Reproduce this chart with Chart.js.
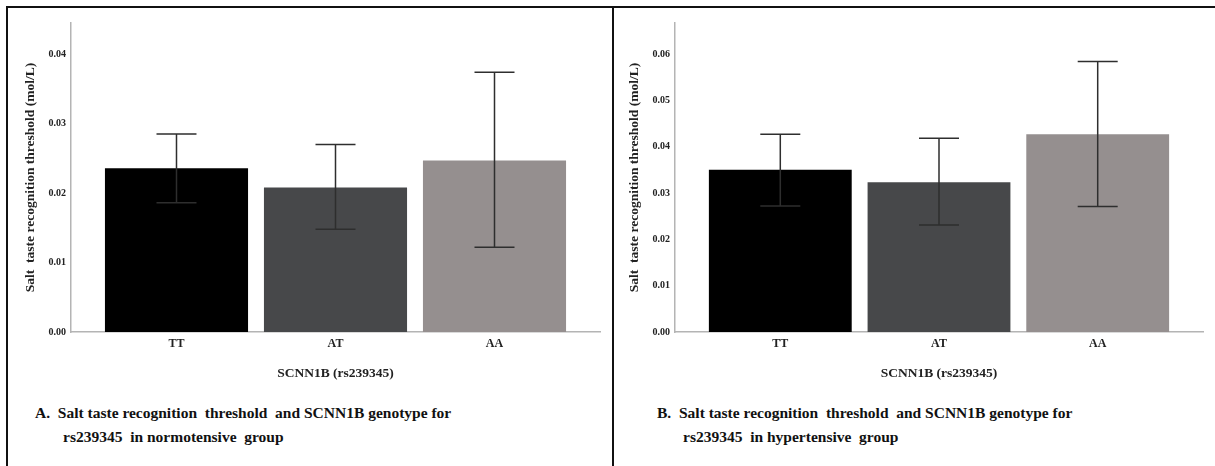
<!DOCTYPE html>
<html>
<head>
<meta charset="utf-8">
<script src="https://cdn.jsdelivr.net/npm/chart.js@4.4.1/dist/chart.umd.min.js"></script>
<style>
  html, body { margin: 0; padding: 0; background: #fff; }
  #page { position: relative; width: 1215px; height: 466px; overflow: hidden; font-family: "Liberation Serif", "Times New Roman", Times, "DejaVu Serif", serif; }
  .rule { position: absolute; background: #111; }
  canvas { position: absolute; top: 0; }
  .cap { position: absolute; font-weight: bold; font-size: 15.5px; color: #111; white-space: pre; line-height: 24px; }
</style>
</head>
<body>
<div id="page">
  <div class="rule" style="left:6px; top:6px; width:1209px; height:2px;"></div>
  <div class="rule" style="left:6px; top:6px; width:2px; height:460px;"></div>
  <div class="rule" style="left:612px; top:6px; width:2px; height:460px;"></div>
  <canvas id="chartNormo" width="607" height="392" style="left:0px"></canvas>
  <canvas id="chartHyper" width="611" height="392" style="left:604px"></canvas>
  <div class="cap" style="left:35px; top:401px;">A.  Salt taste recognition  threshold  and SCNN1B genotype for</div>
  <div class="cap" style="left:63px; top:425px;">rs239345  in normotensive  group</div>
  <div class="cap" style="left:657px; top:401px;">B.  Salt taste recognition  threshold  and SCNN1B genotype for</div>
  <div class="cap" style="left:683px; top:425px;">rs239345  in hypertensive  group</div>
</div>
<script>
const categories = ["TT", "AT", "AA"];
const barColors = ["#000000", "#47484a", "#958f8f"];

// normotensive group
const normoMean = [0.0236, 0.0208, 0.0247];
const normoLow = [0.0186, 0.0148, 0.0122];
const normoHigh = [0.0285, 0.0270, 0.0374];

// hypertensive group
const hyperMean = [0.0350, 0.0323, 0.0427];
const hyperLow = [0.0272, 0.0231, 0.0271];
const hyperHigh = [0.0427, 0.0418, 0.0584];

const yTitle = "Salt  taste recognition threshold (mol/L)";
const xTitle = "SCNN1B (rs239345)";
const serif = "'Liberation Serif', 'Times New Roman', Times, 'DejaVu Serif', serif";

const errorBars = {
  id: "errorBars",
  afterDatasetsDraw(chart, args, opts) {
    const { ctx, scales: { x, y } } = chart;
    ctx.save();
    ctx.strokeStyle = "#2e2e2e";
    ctx.lineWidth = 1.5;
    opts.low.forEach((lo, i) => {
      const px = x.getPixelForValue(i);
      const yLo = y.getPixelForValue(lo);
      const yHi = y.getPixelForValue(opts.high[i]);
      ctx.beginPath();
      ctx.moveTo(px, yHi);
      ctx.lineTo(px, yLo);
      ctx.moveTo(px - 20, yHi);
      ctx.lineTo(px + 20, yHi);
      ctx.moveTo(px - 20, yLo);
      ctx.lineTo(px + 20, yLo);
      ctx.stroke();
    });
    ctx.restore();
  },
};

function makeChart(id, means, low, high, yMax, padRight) {
  return new Chart(document.getElementById(id), {
    type: "bar",
    data: {
      datasets: [
        {
          data: means.map((v, i) => ({ x: i, y: v })),
          backgroundColor: barColors,
          borderWidth: 0,
          barPercentage: 0.9,
          categoryPercentage: 1.0,
        },
      ],
    },
    options: {
      responsive: false,
      animation: false,
      layout: { padding: { top: 23, right: padRight, left: 0, bottom: 0 } },
      plugins: {
        legend: { display: false },
        tooltip: { enabled: false },
        errorBars: { low: low, high: high },
      },
      scales: {
        x: {
          type: "linear",
          min: -0.6635,
          max: 2.6635,
          offset: false,
          grid: { display: false, drawTicks: false },
          border: { display: true, color: "#b4b4b4", width: 1.5 },
          afterBuildTicks: (s) => { s.ticks = categories.map((c, i) => ({ value: i })); },
          afterFit: (s) => { s.height = 60; },
          ticks: {
            padding: 5,
            color: "#222",
            font: { family: serif, size: 12, weight: "bold" },
            callback: (v) => categories[v],
          },
          title: {
            display: true,
            text: xTitle,
            color: "#222",
            font: { family: serif, size: 13.5, weight: "bold" },
            padding: { top: 0, bottom: 10 },
          },
        },
        y: {
          min: 0,
          max: yMax,
          grid: { display: false, drawTicks: false },
          border: { display: true, color: "#b4b4b4", width: 1.5 },
          afterFit: (s) => { s.width = 71; },
          ticks: {
            stepSize: 0.01,
            includeBounds: false,
            padding: 5,
            color: "#222",
            font: { family: serif, size: 10, weight: "bold" },
            callback: (v) => v.toFixed(2),
          },
          title: {
            display: true,
            text: yTitle,
            color: "#222",
            font: { family: serif, size: 13.5, weight: "bold" },
            padding: { top: 22, bottom: 0 },
          },
        },
      },
    },
    plugins: [errorBars],
  });
}

document.addEventListener("DOMContentLoaded", () => {
  makeChart("chartNormo", normoMean, normoLow, normoHigh, 0.0445, 7);
  makeChart("chartHyper", hyperMean, hyperLow, hyperHigh, 0.0667, 12);
});
</script>
</body>
</html>
